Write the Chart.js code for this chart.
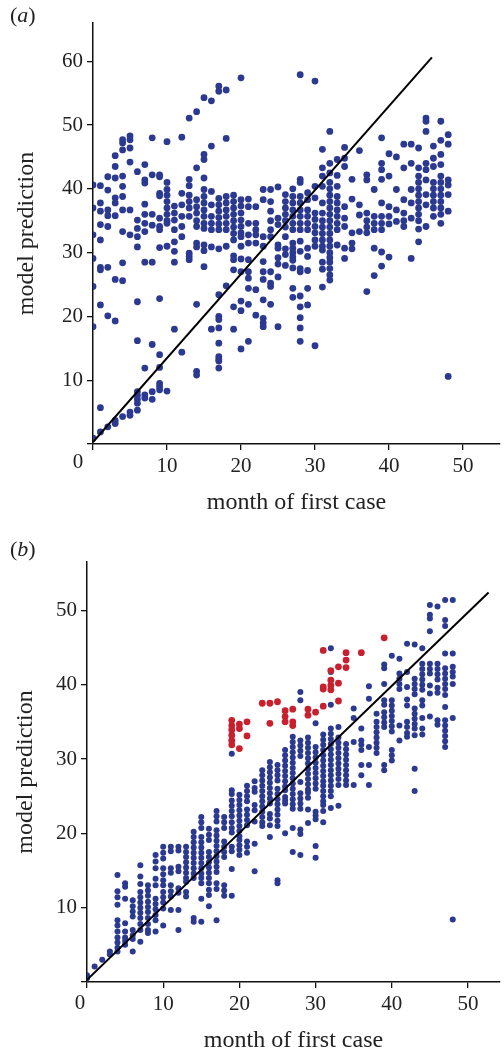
<!DOCTYPE html>
<html>
<head>
<meta charset="utf-8">
<script src="https://cdn.jsdelivr.net/npm/chart.js@4"></script>
<style>
  body { margin: 0; background: #fff; width: 504px; height: 1052px; position: relative; }
  canvas { position: absolute; left: 0; }
  .panel { position: absolute; left: 10px; font-family: "Liberation Serif", serif; font-size: 22px; color: #222; z-index: 2; }
</style>
</head>
<body>
<canvas id="chartA" width="504" height="520" style="top:0"></canvas>
<canvas id="chartB" width="504" height="532" style="top:520px"></canvas>
<div class="panel" style="top:2px">(<i>a</i>)</div>
<div class="panel" style="top:536px">(<i>b</i>)</div>
<script>
// panel (a): model predictions per month of first case (index = month)
const predA = [
  [40.6, 37.0, 32.8, 29.1, 24.7, 18.4, 0.9],
  [40.5, 37.8, 36.5, 34.4, 32.0, 27.7, 27.3, 21.8, 5.7, 1.9],
  [41.9, 39.8, 36.7, 35.8, 34.1, 27.7, 20.1, 2.7],
  [45.2, 43.5, 41.7, 38.6, 37.8, 35.8, 25.8, 19.3, 3.7, 3.2],
  [47.7, 47.2, 46.1, 42.0, 40.4, 38.8, 36.7, 33.3, 28.4, 25.6, 4.3],
  [48.3, 47.7, 46.4, 44.2, 36.7, 32.8, 5.0, 4.5],
  [42.7, 35.1, 33.8, 32.5, 30.9, 22.3, 16.2, 8.2, 7.6, 7.0, 6.4, 5.3],
  [43.8, 41.4, 40.9, 37.6, 36.0, 34.6, 33.3, 28.5, 11.9, 7.7, 7.2],
  [48.0, 42.2, 36.0, 34.3, 28.5, 15.6, 8.2, 7.0],
  [42.2, 41.9, 39.3, 38.9, 35.4, 34.1, 33.6, 30.8, 22.8, 14.0, 12.0, 9.5, 9.0, 8.5],
  [47.4, 41.0, 39.9, 39.0, 38.0, 37.0, 36.0, 35.0, 34.6, 31.0, 8.3],
  [37.3, 36.2, 35.1, 33.6, 31.7, 30.2, 28.5, 18.0],
  [48.1, 39.3, 37.5, 35.7, 34.1, 32.5, 14.4],
  [51.1, 41.5, 40.5, 39.0, 38.0, 37.0, 35.7, 29.9, 29.4, 28.9],
  [52.1, 43.3, 38.3, 37.2, 36.2, 35.0, 34.1, 31.5, 30.9, 21.9, 11.4, 10.8],
  [54.3, 45.4, 44.6, 41.7, 39.9, 38.8, 37.8, 36.7, 35.7, 34.6, 33.8, 31.2, 30.3, 27.8],
  [53.8, 46.7, 39.6, 37.5, 35.7, 34.6, 33.6, 30.9, 18.0],
  [56.1, 55.3, 38.5, 37.5, 36.5, 35.5, 34.5, 33.6, 30.6, 23.4, 20.0, 19.5, 18.2, 15.8, 13.7, 13.3, 13.0, 11.9],
  [55.5, 47.9, 38.8, 37.8, 36.7, 35.7, 34.6, 33.6, 31.0, 24.8],
  [39.0, 38.0, 37.0, 36.0, 35.0, 34.0, 33.0, 32.0, 29.5, 28.9, 27.3, 21.5, 18.0],
  [57.4, 38.3, 37.3, 36.2, 35.1, 34.1, 33.1, 32.5, 31.0, 29.0, 27.0, 22.4, 20.9, 14.9],
  [38.4, 37.2, 34.6, 32.8, 31.5, 28.9, 27.0, 26.0, 24.4, 21.9, 16.1],
  [37.2, 34.6, 33.6, 32.8, 31.5, 24.2, 20.2],
  [39.9, 38.3, 32.5, 31.0, 28.6, 27.0, 25.8, 22.6, 19.7, 19.0, 18.4],
  [39.9, 38.0, 36.5, 35.0, 33.6, 32.5, 27.0, 25.2, 24.7, 21.9],
  [40.3, 35.4, 34.4, 31.2, 30.7, 29.2, 28.2, 26.2, 18.4],
  [39.1, 38.0, 37.0, 36.0, 35.0, 34.0, 32.5, 30.6, 29.7, 28.0],
  [40.0, 38.8, 37.8, 36.7, 35.7, 34.6, 33.6, 31.5, 30.7, 30.0, 29.3, 28.8, 27.6, 24.4, 23.0],
  [57.9, 41.5, 41.0, 38.8, 37.8, 36.7, 35.7, 34.6, 33.6, 31.8, 30.2, 27.5, 27.0, 23.2, 21.5, 19.8, 18.2, 16.1],
  [39.4, 38.3, 36.7, 35.7, 34.6, 33.6, 30.7, 29.4, 27.2, 24.4, 21.8],
  [56.9, 40.4, 38.6, 36.2, 35.2, 34.1, 33.1, 32.0, 31.0, 15.4],
  [46.2, 43.3, 42.0, 40.4, 37.8, 36.2, 35.0, 34.0, 33.0, 32.0, 31.0, 30.4, 28.5, 27.4, 24.6],
  [49.0, 44.0, 42.5, 41.0, 40.0, 39.0, 38.0, 37.0, 36.0, 35.0, 34.0, 33.0, 32.0, 31.0, 30.0, 29.2, 28.5, 27.5, 26.5, 25.7],
  [44.6, 42.1, 40.4, 38.8, 37.8, 36.7, 35.7, 34.6, 33.6, 31.2],
  [46.5, 44.8, 43.5, 37.2, 35.4, 34.1, 30.7, 29.1],
  [41.5, 38.4, 33.1, 31.5, 30.6],
  [46.0, 37.5, 35.9, 33.3],
  [42.2, 41.4, 36.2, 35.0, 34.0, 33.1, 23.9],
  [39.9, 35.7, 34.6, 33.6, 30.7, 26.4],
  [48.0, 44.0, 43.0, 41.5, 37.8, 35.7, 34.6, 33.6, 30.1, 27.9],
  [45.5, 42.0, 37.2, 35.7, 34.5, 29.3],
  [45.0, 39.9, 36.7, 34.9],
  [47.0, 43.3, 38.3, 36.2, 35.0, 34.1],
  [47.0, 44.0, 39.9, 37.8, 35.4, 29.1],
  [46.4, 43.3, 42.0, 41.0, 40.0, 39.0, 38.0, 37.0, 36.0, 35.0, 33.7, 31.7],
  [51.1, 50.6, 49.0, 44.0, 43.0, 41.4, 39.1, 37.5, 34.1],
  [46.7, 44.8, 43.5, 41.0, 40.0, 39.0, 38.0, 37.0, 35.7],
  [50.6, 47.6, 45.4, 43.8, 42.0, 41.0, 40.0, 39.0, 38.0, 37.0, 36.0, 34.6],
  [48.5, 47.0, 41.4, 40.6, 39.1, 36.5, 10.6]
];

// panel (b): blue points per month
const predB = [
  [0.9, 0.5],
  [2.1],
  [3.0],
  [4.1, 3.7],
  [14.4, 12.2, 11.4, 10.4, 8.3, 7.6, 6.8, 6.0, 5.3, 4.6, 4.1],
  [13.3, 12.8, 11.2, 7.9, 6.8, 6.0, 5.5, 5.0],
  [11.0, 10.2, 9.5, 8.8, 7.0, 6.3, 5.8, 4.1],
  [15.7, 14.2, 13.2, 12.1, 11.4, 10.7, 10.0, 9.3, 8.6, 7.8, 7.0, 5.4],
  [13.0, 12.3, 11.6, 10.8, 10.1, 9.4, 8.6, 7.8, 7.0, 6.6],
  [17.1, 16.2, 15.3, 13.9, 13.0, 11.2, 10.5, 9.8, 9.0, 8.3, 6.8],
  [18.2, 17.4, 16.6, 15.3, 14.5, 13.7, 13.0, 12.1, 11.4, 10.7, 9.9, 7.6],
  [18.2, 17.6, 15.3, 14.7, 13.0, 12.2, 11.5, 9.7],
  [18.2, 17.7, 15.5, 14.9, 12.6, 12.0, 9.7, 7.0],
  [18.2, 17.5, 16.8, 16.1, 15.4, 14.7, 14.0, 13.5, 12.1, 11.5],
  [20.2, 19.5, 18.8, 18.1, 17.4, 16.7, 16.0, 15.3, 14.6, 14.0, 8.6, 8.1],
  [22.2, 21.5, 20.7, 19.5, 18.8, 18.1, 17.4, 16.7, 16.0, 15.3, 14.6, 14.0, 13.3, 11.2, 8.1],
  [20.6, 19.8, 19.1, 17.5, 16.8, 16.1, 15.4, 14.7, 14.0, 13.3, 12.4, 11.7, 10.2],
  [23.0, 22.3, 21.6, 20.4, 19.7, 19.0, 18.3, 17.6, 16.9, 16.2, 15.5, 14.8, 13.3, 12.5, 8.3],
  [22.2, 21.5, 20.7, 18.9, 18.2, 17.5, 16.8, 13.0, 12.3, 11.6],
  [30.7, 25.8, 25.3, 24.4, 23.7, 23.0, 22.3, 21.5, 20.7, 20.1, 18.2, 17.6, 15.2, 11.6],
  [25.2, 24.5, 23.8, 23.1, 22.4, 21.7, 21.0, 20.3, 19.6, 19.1, 18.4, 17.8, 17.1],
  [26.4, 25.7, 25.0, 24.3, 23.2, 22.5, 21.8, 21.1, 18.9, 18.2, 17.4],
  [27.0, 26.1, 25.6, 23.8, 23.1, 21.6, 18.6, 14.9],
  [28.5, 27.8, 27.1, 26.4, 25.7, 25.0, 24.3, 23.6, 22.9, 22.2, 21.5, 21.0],
  [29.6, 28.9, 28.2, 27.5, 26.8, 26.1, 25.4, 24.7, 24.0, 22.6, 22.0, 21.1, 19.5],
  [29.2, 28.5, 27.8, 27.1, 26.0, 25.3, 24.6, 23.9, 23.2, 22.5, 21.7, 21.0, 13.7, 13.3],
  [31.2, 30.5, 29.8, 29.1, 28.4, 27.7, 27.0, 26.3, 25.8, 24.9, 24.4, 24.0, 20.0],
  [33.0, 32.3, 31.6, 30.9, 30.2, 29.5, 28.8, 28.1, 27.4, 26.7, 26.0, 25.3, 24.6, 23.9, 23.3, 20.7, 17.5],
  [39.0, 37.9, 32.5, 31.8, 31.1, 30.4, 26.9, 25.4, 24.7, 24.0, 23.3, 20.5, 19.9, 17.1],
  [32.9, 32.2, 31.5, 30.8, 30.1, 29.4, 28.7, 28.0, 27.3, 26.6, 25.9, 25.5, 24.8, 23.2, 21.4],
  [34.8, 31.6, 30.9, 30.2, 29.5, 28.8, 28.1, 27.4, 26.7, 26.0, 22.9, 22.4, 21.9, 18.3, 16.7],
  [33.3, 32.6, 31.9, 31.2, 30.5, 29.8, 29.1, 28.4, 27.7, 27.0, 26.4, 25.7, 25.0, 24.3, 23.8, 23.0, 21.5],
  [44.9, 41.7, 37.3, 34.1, 33.4, 32.7, 32.0, 31.3, 30.6, 29.9, 29.2, 28.5, 27.8, 27.1, 26.4, 25.7, 25.0, 23.4],
  [34.3, 32.9, 32.2, 31.5, 30.8, 30.1, 29.4, 28.7, 28.0, 27.3, 26.5, 23.7],
  [32.0, 31.3, 30.6, 29.9, 29.2, 28.5, 27.8, 27.1, 26.5],
  [36.8, 35.5, 32.3, 26.5],
  [34.1, 32.5, 31.9, 31.2, 29.2, 27.8],
  [39.8, 38.1, 31.6, 29.2, 26.5],
  [36.1, 35.0, 34.3, 33.6, 32.9, 32.2, 31.5, 30.8],
  [42.7, 42.2, 40.1, 37.9, 37.3, 36.3, 35.6, 34.9, 34.3, 29.2, 28.5],
  [43.9, 37.9, 37.2, 36.5, 35.8, 35.1, 34.4, 33.7, 31.2, 30.5, 29.8],
  [43.5, 41.5, 40.8, 40.1, 39.4, 34.5, 32.5],
  [45.5, 41.7, 39.7, 38.0, 37.2, 35.0, 34.3, 33.5, 33.0],
  [45.4, 40.8, 40.1, 39.4, 38.7, 36.8, 36.1, 35.4, 34.7, 34.1, 33.2, 28.7, 25.7],
  [44.9, 42.8, 42.1, 41.4, 40.7, 40.0, 39.3, 37.9, 37.2, 35.5, 34.1, 33.3],
  [50.7, 49.4, 48.9, 47.2, 42.8, 42.1, 41.5, 39.9, 38.8, 35.7],
  [50.5, 42.8, 42.1, 41.4, 40.7, 39.6, 38.9, 35.2, 34.6],
  [51.4, 48.7, 47.9, 44.2, 42.2, 41.5, 40.8, 40.1, 39.4, 38.6, 37.0, 35.2, 34.5, 33.8, 33.1, 32.4, 31.6],
  [51.4, 44.2, 42.4, 41.7, 41.1, 40.1, 35.5, 8.4]
];

// panel (b): red (highlighted) points per month
const redB = [
  [], [], [], [], [], [], [], [], [], [], [], [], [], [], [], [], [], [], [],
  [35.2, 34.5, 33.9, 33.2, 32.5, 31.9],
  [34.7, 34.1, 31.4],
  [35.0, 33.1],
  [],
  [37.5],
  [37.5, 34.8],
  [37.7],
  [36.5, 35.7, 35.0],
  [36.7, 35.0, 34.5],
  [],
  [36.7, 35.9],
  [36.3],
  [44.6, 39.7, 39.4, 37.1],
  [41.9, 40.6, 39.9, 39.3],
  [42.4, 40.2, 37.8],
  [44.3, 43.3, 42.3],
  [],
  [44.3],
  [], [],
  [46.3]
];

// reference lines
const lineAx = [0, 45.8], lineAy = [0.3, 60.6];
const lineBx = [0, 52.7], lineBy = [0.3, 52.4];

const xTicksA = [0, 10, 20, 30, 40, 50];
const yTicksA = [0, 10, 20, 30, 40, 50, 60];
const xTicksB = [0, 10, 20, 30, 40, 50];
const yTicksB = [0, 10, 20, 30, 40, 50];

const BLUE = '#2b3990';
const RED = '#c8202f';
const TXT = '#222';
const serif = '"Liberation Serif", "Times New Roman", serif';

function toPoints(cols) {
  const pts = [];
  cols.forEach((ys, m) => ys.forEach(y => pts.push({ x: m, y: y })));
  return pts;
}

function toLine(xs, ys) {
  return xs.map((x, i) => ({ x: x, y: ys[i] }));
}

// the "0" at the corner, shared by both axes
const originLabel = {
  id: 'originLabel',
  afterDraw(chart, args, opts) {
    const { ctx, scales: { x, y } } = chart;
    ctx.save();
    ctx.font = '21px ' + serif;
    ctx.fillStyle = TXT;
    ctx.textAlign = 'center';
    ctx.textBaseline = 'middle';
    ctx.fillText('0', x.getPixelForValue(0) + opts.dx, y.getPixelForValue(0) + opts.dy);
    ctx.restore();
  }
};

function axis(cfg, ticks, size, title, isX) {
  return {
    type: 'linear',
    min: 0,
    max: cfg.max,
    afterFit: s => { if (isX) s.height = size; else s.width = size; },
    afterBuildTicks: s => { s.ticks = ticks.map(v => ({ value: v })); },
    grid: { drawOnChartArea: false, drawTicks: true, tickLength: 6, color: '#111', lineWidth: 1.3 },
    border: { display: true, color: '#111', width: 1.5 },
    ticks: {
      color: TXT,
      font: { family: serif, size: 21 },
      padding: 4,
      callback: v => (v === 0 ? '' : v)
    },
    title: {
      display: true,
      text: title,
      color: TXT,
      font: { family: serif, size: 24 },
      padding: cfg.titlePad
    }
  };
}

function drawPanel(id, o) {
  return new Chart(document.getElementById(id), {
    type: 'scatter',
    data: { datasets: o.datasets },
    options: {
      responsive: false,
      animation: false,
      layout: { padding: { top: o.top, right: 1, left: 0, bottom: 0 } },
      plugins: { legend: { display: false }, tooltip: { enabled: false }, originLabel: o.zero },
      scales: {
        x: axis(o.x, o.xTicks, o.xHeight, 'month of first case', true),
        y: axis(o.y, o.yTicks, o.yWidth, 'model prediction', false)
      }
    },
    plugins: [originLabel]
  });
}

drawPanel('chartA', {
  top: 23,
  xHeight: 76,
  yWidth: 93,
  x: { max: 55, titlePad: { top: 0, bottom: 3 } },
  y: { max: 66, titlePad: { top: 12, bottom: 0 } },
  xTicks: xTicksA,
  yTicks: yTicksA,
  zero: { dx: -15, dy: 18 },
  datasets: [
    { type: 'line', data: toLine(lineAx, lineAy), borderColor: '#000', borderWidth: 2, pointRadius: 0 },
    { data: toPoints(predA), backgroundColor: BLUE, borderWidth: 0, pointRadius: 3.4 }
  ]
});

drawPanel('chartB', {
  top: 42,
  xHeight: 70,
  yWidth: 87,
  x: { max: 54.2, titlePad: { top: 0, bottom: -3 } },
  y: { max: 56.5, titlePad: { top: 11, bottom: 0 } },
  xTicks: xTicksB,
  yTicks: yTicksB,
  zero: { dx: -7, dy: 21 },
  datasets: [
    { type: 'line', data: toLine(lineBx, lineBy), borderColor: '#000', borderWidth: 2, pointRadius: 0 },
    { data: toPoints(redB), backgroundColor: RED, borderWidth: 0, pointRadius: 3.4 },
    { data: toPoints(predB), backgroundColor: BLUE, borderWidth: 0, pointRadius: 3.0 }
  ]
});
</script>
</body>
</html>
